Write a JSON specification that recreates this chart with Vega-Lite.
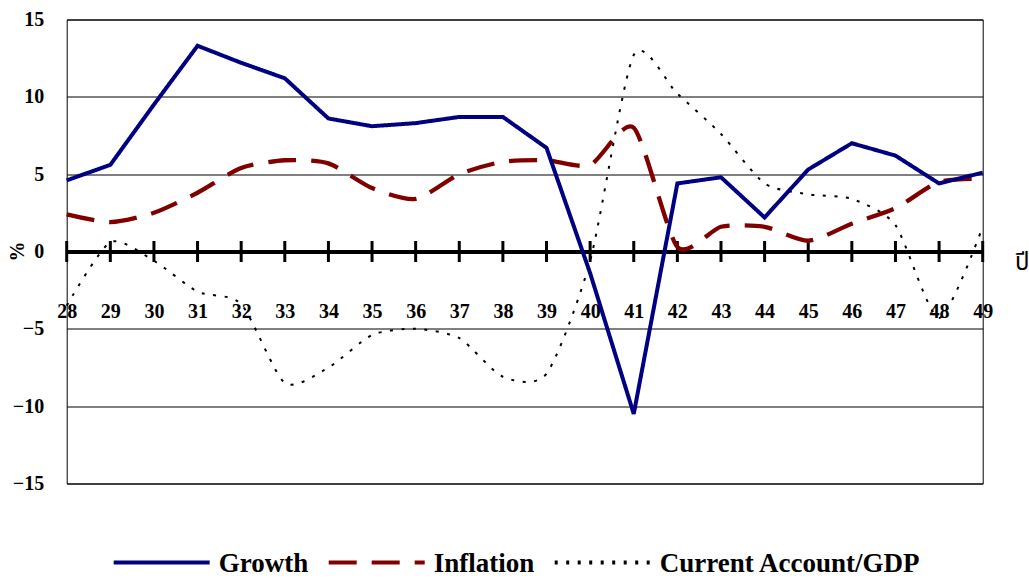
{
  "$schema": "https://vega.github.io/schema/vega-lite/v6.json",
  "width": 916,
  "height": 464,
  "autosize": "none",
  "padding": {"left": 66.7, "top": 19.5, "right": 46.3, "bottom": 94.5},
  "background": "white",
  "config": {
    "view": {"stroke": "#000", "strokeWidth": 1},
    "font": "Liberation Serif"
  },
  "data": {
    "values": [
      {"year": 28, "series": "Growth", "value": 4.6},
      {"year": 29, "series": "Growth", "value": 5.6},
      {"year": 30, "series": "Growth", "value": 9.5},
      {"year": 31, "series": "Growth", "value": 13.3},
      {"year": 32, "series": "Growth", "value": 12.2},
      {"year": 33, "series": "Growth", "value": 11.2},
      {"year": 34, "series": "Growth", "value": 8.6},
      {"year": 35, "series": "Growth", "value": 8.1},
      {"year": 36, "series": "Growth", "value": 8.3},
      {"year": 37, "series": "Growth", "value": 8.7},
      {"year": 38, "series": "Growth", "value": 8.7},
      {"year": 39, "series": "Growth", "value": 6.7},
      {"year": 40, "series": "Growth", "value": -1.4},
      {"year": 41, "series": "Growth", "value": -10.5},
      {"year": 42, "series": "Growth", "value": 4.4},
      {"year": 43, "series": "Growth", "value": 4.8},
      {"year": 44, "series": "Growth", "value": 2.2},
      {"year": 45, "series": "Growth", "value": 5.3},
      {"year": 46, "series": "Growth", "value": 7.0},
      {"year": 47, "series": "Growth", "value": 6.2},
      {"year": 48, "series": "Growth", "value": 4.4},
      {"year": 49, "series": "Growth", "value": 5.1},
      {"year": 28, "series": "Inflation", "value": 2.4},
      {"year": 29, "series": "Inflation", "value": 1.9},
      {"year": 30, "series": "Inflation", "value": 2.5},
      {"year": 31, "series": "Inflation", "value": 3.8},
      {"year": 32, "series": "Inflation", "value": 5.4},
      {"year": 33, "series": "Inflation", "value": 5.9},
      {"year": 34, "series": "Inflation", "value": 5.7},
      {"year": 35, "series": "Inflation", "value": 4.1},
      {"year": 36, "series": "Inflation", "value": 3.4},
      {"year": 37, "series": "Inflation", "value": 5.0},
      {"year": 38, "series": "Inflation", "value": 5.8},
      {"year": 39, "series": "Inflation", "value": 5.9},
      {"year": 40, "series": "Inflation", "value": 5.6},
      {"year": 41, "series": "Inflation", "value": 8.0},
      {"year": 42, "series": "Inflation", "value": 0.3},
      {"year": 43, "series": "Inflation", "value": 1.6},
      {"year": 44, "series": "Inflation", "value": 1.6},
      {"year": 45, "series": "Inflation", "value": 0.7},
      {"year": 46, "series": "Inflation", "value": 1.8},
      {"year": 47, "series": "Inflation", "value": 2.8},
      {"year": 48, "series": "Inflation", "value": 4.5},
      {"year": 49, "series": "Inflation", "value": 4.7},
      {"year": 28, "series": "Current Account/GDP", "value": -3.5},
      {"year": 29, "series": "Current Account/GDP", "value": 0.6},
      {"year": 30, "series": "Current Account/GDP", "value": -0.6},
      {"year": 31, "series": "Current Account/GDP", "value": -2.6},
      {"year": 32, "series": "Current Account/GDP", "value": -3.4},
      {"year": 33, "series": "Current Account/GDP", "value": -8.5},
      {"year": 34, "series": "Current Account/GDP", "value": -7.5},
      {"year": 35, "series": "Current Account/GDP", "value": -5.4},
      {"year": 36, "series": "Current Account/GDP", "value": -5.0},
      {"year": 37, "series": "Current Account/GDP", "value": -5.6},
      {"year": 38, "series": "Current Account/GDP", "value": -8.1},
      {"year": 39, "series": "Current Account/GDP", "value": -7.9},
      {"year": 40, "series": "Current Account/GDP", "value": -0.6},
      {"year": 41, "series": "Current Account/GDP", "value": 12.7},
      {"year": 42, "series": "Current Account/GDP", "value": 10.2},
      {"year": 43, "series": "Current Account/GDP", "value": 7.6},
      {"year": 44, "series": "Current Account/GDP", "value": 4.4},
      {"year": 45, "series": "Current Account/GDP", "value": 3.7},
      {"year": 46, "series": "Current Account/GDP", "value": 3.4},
      {"year": 47, "series": "Current Account/GDP", "value": 1.7},
      {"year": 48, "series": "Current Account/GDP", "value": -4.3},
      {"year": 49, "series": "Current Account/GDP", "value": 1.6}
    ]
  },
  "encoding": {
    "x": {
      "field": "year",
      "type": "quantitative",
      "scale": {"domain": [28, 49], "nice": false, "zero": false},
      "axis": {
        "orient": "bottom",
        "offset": -232,
        "values": [28, 29, 30, 31, 32, 33, 34, 35, 36, 37, 38, 39, 40, 41, 42, 43, 44, 45, 46, 47, 48, 49],
        "format": "d",
        "grid": false,
        "ticks": false,
        "tickSize": 0,
        "domain": true,
        "domainColor": "#000",
        "domainWidth": 4,
        "labelFont": "Liberation Serif",
        "labelFontWeight": "bold",
        "labelFontSize": 20,
        "labelColor": "#000",
        "labelPadding": 50,
        "labelOverlap": false,
        "labelFlush": false,
        "title": "ปี",
        "titleFont": "Noto Sans Thai",
        "titleFontWeight": "normal",
        "titleFontSize": 24,
        "titleColor": "#000",
        "titleAlign": "center",
        "titleBaseline": "middle",
        "titleX": 955,
        "titleY": 11
      }
    },
    "y": {
      "field": "value",
      "type": "quantitative",
      "scale": {"domain": [-15, 15], "nice": false},
      "axis": {
        "values": [-15, -10, -5, 0, 5, 10, 15],
        "grid": true,
        "gridColor": "#000",
        "gridWidth": 1,
        "gridOpacity": 1,
        "domain": false,
        "ticks": false,
        "tickSize": 0,
        "labelFont": "Liberation Serif",
        "labelFontWeight": "bold",
        "labelFontSize": 20,
        "labelColor": "#000",
        "labelPadding": 23,
        "title": "%",
        "titleFont": "Liberation Serif",
        "titleFontWeight": "bold",
        "titleFontSize": 20,
        "titleColor": "#000",
        "titleAngle": 270,
        "titleAlign": "center",
        "titleBaseline": "middle",
        "titleX": -48.7,
        "titleY": 231.5
      }
    }
  },
  "layer": [
    {
      "transform": [{"filter": "datum.series === 'Growth'"}],
      "mark": {"type": "tick", "orient": "vertical", "size": 21, "thickness": 3, "color": "#000", "opacity": 1},
      "encoding": {
        "y": {"datum": 0}
      }
    },
    {
      "transform": [{"filter": "datum.series === 'Current Account/GDP'"}],
      "mark": {"type": "line", "interpolate": "cardinal", "tension": 0.3, "strokeWidth": 2},
      "encoding": {
        "color": {"field": "series", "type": "nominal"},
        "strokeDash": {"field": "series", "type": "nominal"}
      }
    },
    {
      "transform": [{"filter": "datum.series === 'Inflation'"}],
      "mark": {"type": "line", "interpolate": "cardinal", "tension": 0.3, "strokeWidth": 4.3},
      "encoding": {
        "color": {"field": "series", "type": "nominal"},
        "strokeDash": {"field": "series", "type": "nominal"}
      }
    },
    {
      "transform": [{"filter": "datum.series === 'Growth'"}],
      "mark": {"type": "line", "interpolate": "linear", "strokeWidth": 4},
      "encoding": {
        "color": {
          "field": "series",
          "type": "nominal",
          "scale": {
            "domain": ["Growth", "Inflation", "Current Account/GDP"],
            "range": ["#000080", "#800000", "#000000"]
          },
          "legend": {
            "orient": "none",
            "direction": "horizontal",
            "legendX": 45,
            "legendY": 493,
            "title": null,
            "symbolType": "stroke",
            "symbolSize": 9216,
            "symbolStrokeWidth": 4,
            "labelFont": "Liberation Serif",
            "labelFontWeight": "bold",
            "labelFontSize": 27,
            "labelColor": "#000",
            "labelLimit": 500,
            "labelOffset": 7,
            "columnPadding": 12,
            "padding": 0,
            "encode": {"labels": {"update": {"dy": {"value": 1}}}}
          }
        },
        "strokeDash": {
          "field": "series",
          "type": "nominal",
          "scale": {
            "domain": ["Growth", "Inflation", "Current Account/GDP"],
            "range": [[1, 0], [28, 15], [3, 8.5]]
          },
          "legend": {
            "orient": "none",
            "direction": "horizontal",
            "legendX": 45,
            "legendY": 493,
            "title": null,
            "symbolType": "stroke",
            "symbolSize": 9216,
            "symbolStrokeWidth": 4,
            "labelFont": "Liberation Serif",
            "labelFontWeight": "bold",
            "labelFontSize": 27,
            "labelColor": "#000",
            "labelLimit": 500,
            "labelOffset": 7,
            "columnPadding": 12,
            "padding": 0,
            "encode": {"labels": {"update": {"dy": {"value": 1}}}}
          }
        }
      }
    }
  ]
}
